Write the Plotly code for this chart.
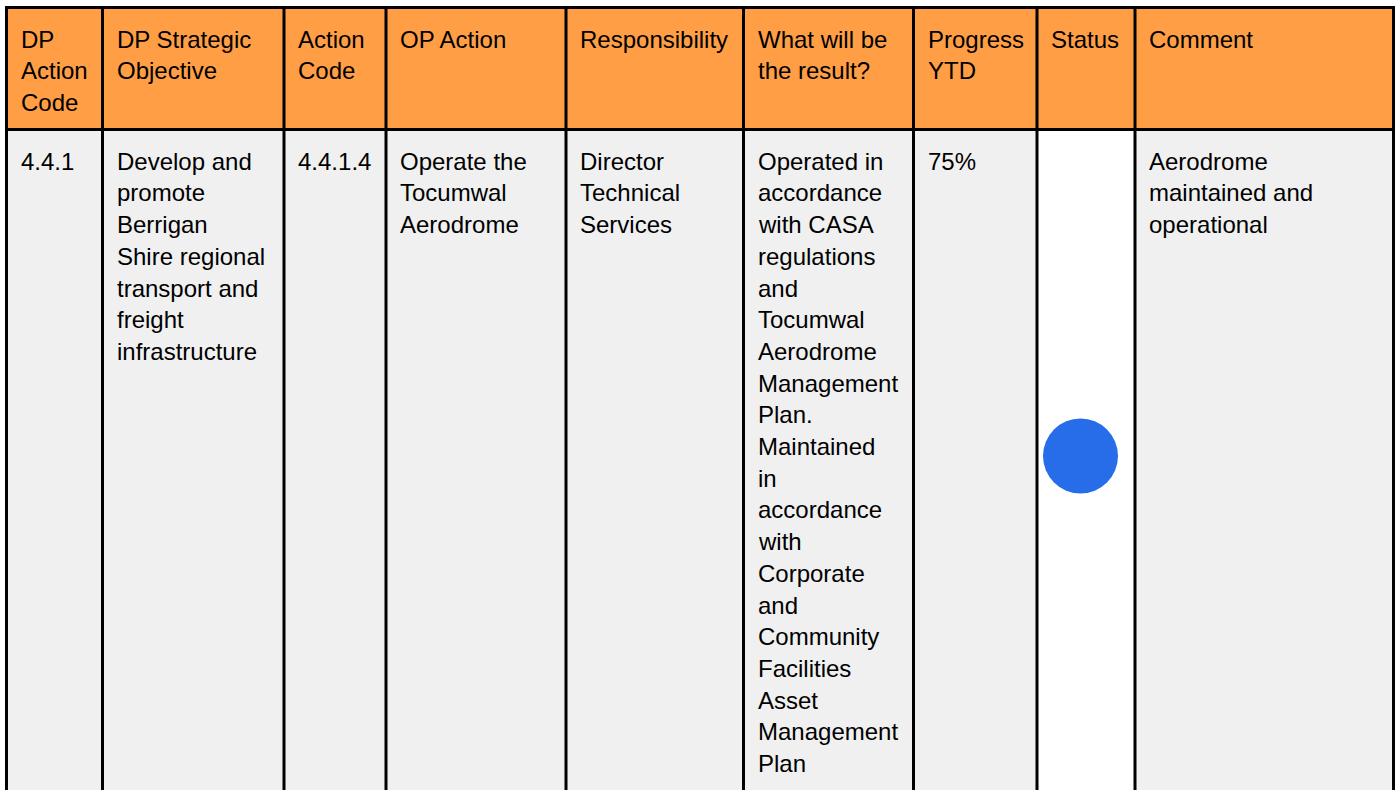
import plotly.graph_objects as go

# ---- data ----
headers = [
    "DP<br>Action<br>Code",
    "DP Strategic<br>Objective",
    "Action<br>Code",
    "OP Action",
    "Responsibility",
    "What will be<br>the result?",
    "Progress<br>YTD",
    "Status",
    "Comment",
]
dp_action_code = ["4.4.1"]
dp_strategic_objective = ["Develop and<br>promote<br>Berrigan<br>Shire regional<br>transport and<br>freight<br>infrastructure"]
action_code = ["4.4.1.4"]
op_action = ["Operate the<br>Tocumwal<br>Aerodrome"]
responsibility = ["Director<br>Technical<br>Services"]
result = ["Operated in<br>accordance<br>with CASA<br>regulations<br>and<br>Tocumwal<br>Aerodrome<br>Management<br>Plan.<br>Maintained<br>in<br>accordance<br>with<br>Corporate<br>and<br>Community<br>Facilities<br>Asset<br>Management<br>Plan"]
progress_ytd = ["75%"]
status = ["On track"]
comment = ["Aerodrome<br>maintained and<br>operational"]

status_colours = {"On track": "#276CE9"}

# ---- layout constants ----
W, H = 1397, 790
edges = [6.5, 102.5, 284, 386, 566, 743.5, 913.5, 1037, 1135, 1393.5]
top = 7.5
header_bottom = 129.5
row_bottom = 782.5
first_baseline = 40.0
line_h = 31.7
text_pad = 14.0
baseline_shift = 8.3
FONT = "Liberation Sans, Arial, sans-serif"
ORANGE = "#FF9E45"
GREY = "#F0F0F0"

fig = go.Figure()
shapes = []
annotations = []

# fills
shapes.append(dict(type="rect", x0=edges[0], x1=edges[-1], y0=top, y1=header_bottom,
                   fillcolor=ORANGE, line_width=0, layer="below"))
shapes.append(dict(type="rect", x0=edges[0], x1=edges[-1], y0=header_bottom, y1=H + 10,
                   fillcolor=GREY, line_width=0, layer="below"))
status_idx = headers.index("Status")
shapes.append(dict(type="rect", x0=edges[status_idx], x1=edges[status_idx + 1], y0=header_bottom, y1=H + 10,
                   fillcolor="white", line_width=0, layer="below"))

# borders
for xe in edges:
    shapes.append(dict(type="line", x0=xe, x1=xe, y0=top - 1.5, y1=H + 10,
                       line=dict(color="black", width=3), layer="above"))
for ye in (top, header_bottom):
    shapes.append(dict(type="line", x0=edges[0] - 1.5, x1=edges[-1] + 1.5, y0=ye, y1=ye,
                       line=dict(color="black", width=3), layer="above"))


def add_cell_text(text, col, row_top):
    for i, line in enumerate(text.split("<br>")):
        annotations.append(dict(
            x=edges[col] + text_pad, y=row_top + first_baseline + i * line_h - baseline_shift,
            xref="x", yref="y", text=line, showarrow=False,
            xanchor="left", yanchor="middle", borderpad=0, borderwidth=0,
            font=dict(family=FONT, size=24, color="black"),
        ))


for c, h in enumerate(headers):
    add_cell_text(h, c, top)

row = [dp_action_code[0], dp_strategic_objective[0], action_code[0], op_action[0],
       responsibility[0], result[0], progress_ytd[0], None, comment[0]]
for c, val in enumerate(row):
    if val is not None:
        add_cell_text(val, c, header_bottom)

# status indicator
fig.add_trace(go.Scatter(
    x=[edges[status_idx] + 43.5], y=[(header_bottom + row_bottom) / 2],
    mode="markers", text=status, hoverinfo="text",
    marker=dict(size=75, color=[status_colours[s] for s in status], line=dict(width=0)),
    showlegend=False,
))

fig.update_layout(
    width=W, height=H, margin=dict(l=0, r=0, t=0, b=0),
    paper_bgcolor="white", plot_bgcolor="white",
    xaxis=dict(range=[0, W], visible=False, fixedrange=True),
    yaxis=dict(range=[H, 0], visible=False, fixedrange=True),
    shapes=shapes, annotations=annotations,
)

fig.write_html("out.html", config={"displayModeBar": False},
               post_script="document.body.style.margin='0';document.body.style.overflow='hidden';")
